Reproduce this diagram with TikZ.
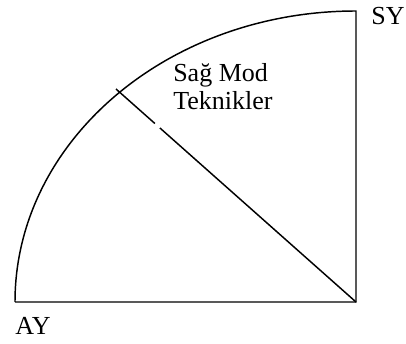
\documentclass[tikz,border=0pt]{standalone}
\usepackage{fontspec}
\setmainfont{Liberation Serif}
\usetikzlibrary{calc, positioning}

\begin{document}
\begin{tikzpicture}[
    x=0.75pt, y=0.75pt,
    edge/.style={line width=1.1pt, line join=miter},
    caption/.style={font=\fontsize{19.5}{21}\selectfont, inner sep=0pt, align=left}
]
    \useasboundingbox (0,0) rectangle (406,343);

    \coordinate (centre) at (356,41);
    \coordinate (ay) at (15,41);
    \coordinate (sy) at (356,332);
    \coordinate (tip) at (116,254);

    % quarter sector
    \draw[edge] (ay) -- (centre) -- (sy) arc[start angle=90, end angle=180, x radius=341, y radius=291];

    % dividing line with a small break
    \draw[edge] (centre) -- ($(centre)!0.817!(tip)$);
    \draw[edge] ($(centre)!0.838!(tip)$) -- (tip);

    \node[caption, anchor=center] (aylabel) at (33,17) {AY};
    \node[caption, anchor=center] (sylabel) at (388,327) {SY};
    \node[caption, anchor=north west] (mode) at (173,280) {Sağ Mod\\Teknikler};

\end{tikzpicture}
\end{document}
